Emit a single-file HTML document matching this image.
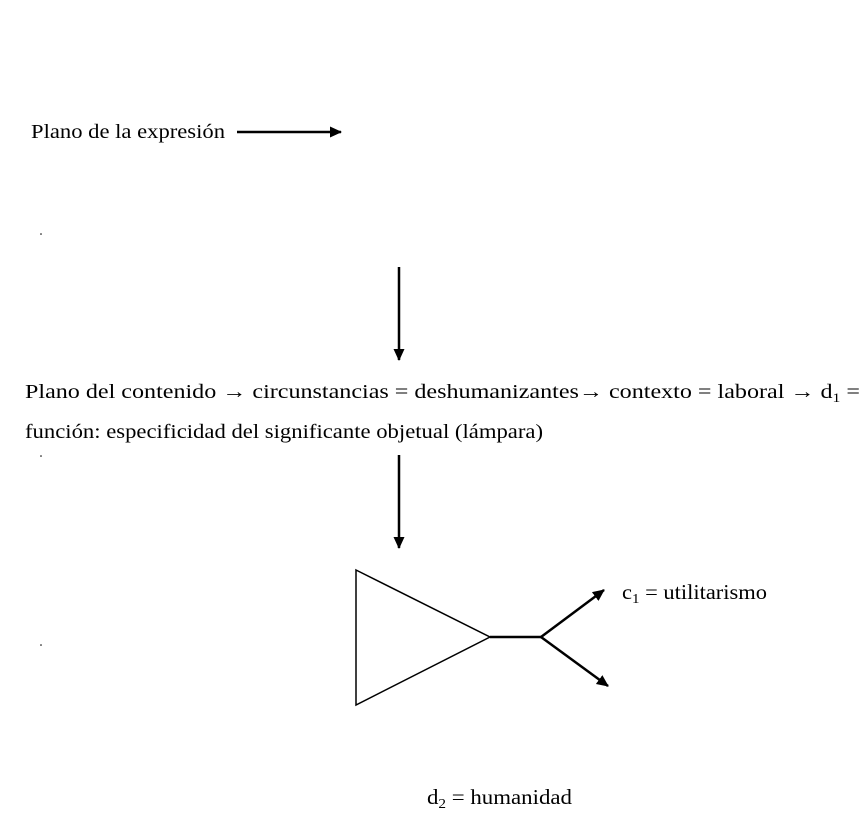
<!DOCTYPE html>
<html><head><style>body{margin:0;background:#fff}svg{display:block}</style></head><body>
<svg width="867" height="822" xmlns="http://www.w3.org/2000/svg" font-family="'Liberation Serif', serif" font-size="20" fill="#000">
<defs><marker id="a" markerWidth="12" markerHeight="12" refX="11" refY="6" orient="auto" markerUnits="userSpaceOnUse"><path d="M0,0.5 L12,6 L0,11.5 z"/></marker></defs>
<text x="31" y="138" textLength="194" lengthAdjust="spacingAndGlyphs">Plano de la expresión</text>
<line x1="237" y1="132" x2="341" y2="132" stroke="#000" stroke-width="2.5" marker-end="url(#a)"/>
<circle cx="41" cy="234" r="0.8"/><circle cx="41" cy="456" r="0.8"/><circle cx="41" cy="645" r="0.8"/>
<line x1="399" y1="267" x2="399" y2="360" stroke="#000" stroke-width="2.5" marker-end="url(#a)"/>
<text x="25" y="398" textLength="835" lengthAdjust="spacingAndGlyphs">Plano del contenido <tspan font-weight="bold">→</tspan> circunstancias = deshumanizantes<tspan font-weight="bold">→</tspan> contexto = laboral <tspan font-weight="bold">→</tspan> d<tspan font-size="13" dy="4">1</tspan><tspan dy="-4"> =</tspan></text>
<text x="25" y="438" textLength="518" lengthAdjust="spacingAndGlyphs">función: especificidad del significante objetual (lámpara)</text>
<line x1="399" y1="455" x2="399" y2="548" stroke="#000" stroke-width="2.5" marker-end="url(#a)"/>
<polygon points="356,570 490,637 356,705" fill="none" stroke="#000" stroke-width="1.5"/>
<line x1="490" y1="637" x2="541" y2="637" stroke="#000" stroke-width="2.5"/>
<line x1="541" y1="637" x2="604" y2="590" stroke="#000" stroke-width="2.5" marker-end="url(#a)"/>
<line x1="541" y1="637" x2="608" y2="686" stroke="#000" stroke-width="2.5" marker-end="url(#a)"/>
<text x="622" y="599" font-size="21" textLength="145" lengthAdjust="spacingAndGlyphs">c<tspan font-size="14" dy="4">1</tspan><tspan dy="-4"> = utilitarismo</tspan></text>
<text x="427" y="804" font-size="21" textLength="145" lengthAdjust="spacingAndGlyphs">d<tspan font-size="14" dy="4">2</tspan><tspan dy="-4"> = humanidad</tspan></text>
</svg>
</body></html>
